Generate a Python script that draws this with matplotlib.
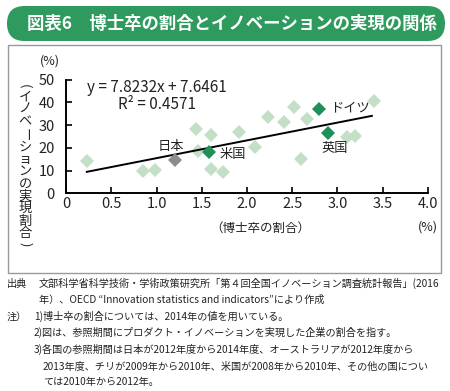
import matplotlib
matplotlib.use("Agg")
import matplotlib.pyplot as plt
import numpy as np
from matplotlib.patches import FancyBboxPatch, Rectangle

plt.rcParams['font.family'] = ['Noto Sans CJK JP', 'DejaVu Sans']

# --- data ---
other_x = [0.23, 0.85, 0.98, 1.44, 1.46, 1.60, 1.60, 1.735, 1.915, 2.09,
           2.235, 2.41, 2.515, 2.60, 2.66, 3.10, 3.19, 3.40]
other_y = [14.3, 10.0, 10.4, 28.2, 18.6, 25.5, 10.8, 9.4, 26.9, 20.4,
           33.5, 31.3, 38.0, 15.0, 32.7, 24.7, 25.3, 40.7]

named = ["日本", "米国", "ドイツ", "英国"]
named_x = [1.20, 1.58, 2.80, 2.90]
named_y = [14.5, 18.3, 37.3, 26.4]

slope, intercept = 7.8232, 7.6461
fit_range = [0.23, 3.38]

x_ticks = [0, 0.5, 1.0, 1.5, 2.0, 2.5, 3.0, 3.5, 4.0]
x_ticklabels = ["0", "0.5", "1.0", "1.5", "2.0", "2.5", "3.0", "3.5", "4.0"]
y_ticks = [0, 10, 20, 30, 40, 50]

title = "図表6　博士卒の割合とイノベーションの実現の関係"
ylabel = "(イノベーションの実現割合)"
xlabel = "（博士卒の割合）"
notes = [
    (7, 283, "出典"),
    (39, 283, "文部科学省科学技術・学術政策研究所「第４回全国イノベーション調査統計報告」(2016"),
    (39, 299.5, "年）、OECD “Innovation statistics and indicators”により作成"),
    (7, 316, "注）"),
    (34, 316, "1)博士卒の割合については、2014年の値を用いている。"),
    (34, 332.5, "2)図は、参照期間にプロダクト・イノベーションを実現した企業の割合を指す。"),
    (34, 349.5, "3)各国の参照期間は日本が2012年度から2014年度、オーストラリアが2012年度から"),
    (43, 366, "2013年度、チリが2009年から2010年、米国が2008年から2010年、その他の国につい"),
    (43, 382, "ては2010年から2012年。"),
]

LIGHT = "#c4dfc7"
DARK = "#1f9158"
GRAY = "#8c8c8c"
TXT = "#222222"

fig = plt.figure(figsize=(4.5, 3.91), dpi=100)

# overlay in pixel coordinates for the decorations
ov = fig.add_axes([0, 0, 1, 1])
ov.set_xlim(0, 450)
ov.set_ylim(391, 0)
ov.axis('off')
ov.set_zorder(0)

ov.add_patch(FancyBboxPatch((7, 6), 438, 35, boxstyle="round,pad=0,rounding_size=17.5",
                            facecolor="#2f9a5e", edgecolor="none"))
ov.text(27, 24, title, color="white", fontsize=12.5, weight="bold", ha="left", va="center")
ov.add_patch(Rectangle((7.5, 45), 433.5, 228, facecolor="none", edgecolor="#999999", lw=1))

# vertical y label, one char per row
ypos = 82
for ch in ylabel:
    if ch in "()":
        ypos += 4
        ov.text(25, ypos, ch, fontsize=9.5, ha="center", va="center", rotation=-90, color=TXT)
        ypos += 5
    else:
        ypos += 6.2
        rot = -90 if ch == "ー" else 0
        ov.text(25, ypos, ch, fontsize=9.5, ha="center", va="center", rotation=rot, color=TXT)
        ypos += 6.2

ov.text(50, 61, "(%)", fontsize=9, ha="center", va="center", color=TXT)
ov.text(428, 227, "(%)", fontsize=9, ha="center", va="center", color=TXT)
ov.text(260, 228, xlabel, fontsize=9, ha="center", va="center", color=TXT)

for x, y, s in notes:
    ov.text(x, y + 3.5, s, fontsize=7.3, ha="left", va="baseline", color=TXT)

# main scatter
ax = fig.add_axes([66 / 450, 1 - 193.3 / 391, (428 - 66) / 450, (193.3 - 79.7) / 391])
ax.set_zorder(1)
ax.patch.set_visible(False)

ax.plot(other_x, other_y, linestyle="none", marker="D", markersize=7,
        color=LIGHT, markeredgewidth=0)
fx = np.array(fit_range)
ax.plot(fx, slope * fx + intercept, color="black", lw=1.4)
for name, x, y in zip(named, named_x, named_y):
    c = GRAY if name == "日本" else DARK
    ax.plot([x], [y], linestyle="none", marker="D", markersize=7,
            color=c, markeredgewidth=0)

ax.text(2.92, 37.7, "ドイツ", fontsize=9.5, ha="left", va="center", color=TXT)
ax.text(2.97, 19.5, "英国", fontsize=9.5, ha="center", va="center", color=TXT)
ax.text(1.70, 16.9, "米国", fontsize=9.5, ha="left", va="center", color=TXT)
ax.text(1.155, 20.8, "日本", fontsize=9.5, ha="center", va="center", color=TXT)

ax.text(1.0, 46.4, "y = 7.8232x + 7.6461", fontsize=11, ha="center", va="center", color=TXT)
ax.text(1.01, 38.9, "R² = 0.4571", fontsize=11, ha="center", va="center", color=TXT)

ax.set_xlim(0, 4)
ax.set_ylim(0, 50)
ax.set_xticks(x_ticks)
ax.set_xticklabels(x_ticklabels)
ax.set_yticks(y_ticks)
for s in ["top", "right"]:
    ax.spines[s].set_visible(False)
for s in ["left", "bottom"]:
    ax.spines[s].set_linewidth(1.4)
ax.tick_params(direction="in", length=4, width=1.2, labelsize=10.5, colors="black",
               labelcolor=TXT)
ax.tick_params(axis="x", pad=3)
ax.tick_params(axis="y", pad=8)

fig.savefig("out.png", dpi=100)
